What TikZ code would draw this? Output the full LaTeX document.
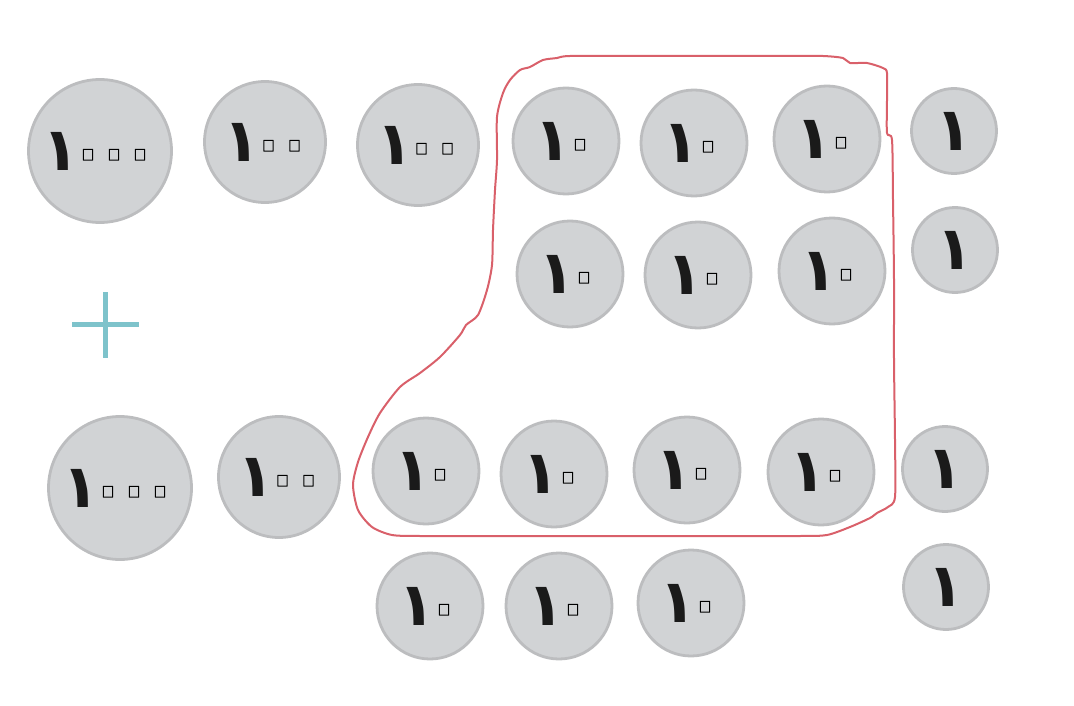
\documentclass[tikz,border=0pt]{standalone}
\usepackage{fontspec}
\newfontfamily\arfont[Script=Arabic]{DejaVu Sans}
\newfontfamily\arfontb[Script=Arabic]{DejaVu Sans Bold}
\definecolor{coinfill}{HTML}{D1D3D5}
\definecolor{coinedge}{HTML}{BCBDBF}
\definecolor{redline}{HTML}{D9606A}
\definecolor{plusc}{HTML}{7EC3CB}
\definecolor{digitc}{HTML}{1A1A1A}
\newcommand\dOne{\makebox[28pt][c]{\arfontb\fontsize{60}{60}\selectfont\color{digitc}١}}
\newcommand\dZero{\makebox[26pt][c]{\raisebox{-9.5pt}[0pt][0pt]{\fontsize{88}{88}\selectfont\special{pdf:literal direct q 1 Tr 1 j 1 w}٠\special{pdf:literal direct Q}}}}
\begin{document}
\begin{tikzpicture}[x=1pt,y=-1pt,
  coin/.style={circle, fill=coinfill, draw=coinedge, line width=2.8pt, inner sep=0pt, font=\arfont},
  thousand/.style={coin, minimum size=143pt},
  hundred/.style={coin, minimum size=121pt},
  ten/.style={coin, minimum size=106pt},
  unit/.style={coin, minimum size=85pt}]
\useasboundingbox (0,0) rectangle (1074,706);
% red grouping outline
\draw[redline, line width=2pt, line join=round] plot[smooth cycle, tension=0.45] coordinates {
 (497,117) (503,93) (510,80) (520,70) (530,67) (543,60) (557,58) (570,56)
 (640,56) (720,56) (790,56) (823,56) (843,58) (850,63) (867,63) (883,68) (887,73) (887,100) (887,133) (892,140)
 (893,200) (894,280) (894,360) (895,440) (895,497) (888,507) (877,513) (870,518) (850,527) (827,535) (800,536) (720,536) (640,536)
 (560,536) (480,536) (420,536) (392,535) (372,527) (358,510) (353,485) (358,462) (368,437) (380,413) (400,387)
 (420,373) (440,357) (460,335) (466,325) (478,315) (487,290) (492,265) (493,230) (495,190) (497,160)};
% plus sign
\coordinate (pl) at (72,324); \coordinate (pr) at (139,324);
\coordinate (pt) at (105,292); \coordinate (pb) at (105,358);
\draw[plusc, line width=5pt] (pl) -- (pr) (pt) -- (pb);
% row 1
\node[thousand] (a1) at (100,151) {\dOne\dZero\dZero\dZero\hspace{10pt}};
\node[hundred] (a2) at (265,142) {\hspace{5pt}\dOne\dZero\dZero};
\node[hundred] (a3) at (418,145) {\hspace{5pt}\dOne\dZero\dZero};
\node[ten] (a4) at (566,141) {\dOne\dZero};
\node[ten] (a5) at (694,143) {\dOne\dZero};
\node[ten] (a6) at (827,139) {\dOne\dZero};
\node[unit] (a7) at (954,131) {\dOne};
% row 2
\node[ten] (b1) at (570,274) {\dOne\dZero};
\node[ten] (b2) at (698,275) {\dOne\dZero};
\node[ten] (b3) at (832,271) {\dOne\dZero};
\node[unit] (b4) at (955,250) {\dOne};
% row 3
\node[thousand] (c1) at (120,488) {\dOne\dZero\dZero\dZero\hspace{10pt}};
\node[hundred] (c2) at (279,477) {\hspace{5pt}\dOne\dZero\dZero};
\node[ten] (c3) at (426,471) {\dOne\dZero};
\node[ten] (c4) at (554,474) {\dOne\dZero};
\node[ten] (c5) at (687,470) {\dOne\dZero};
\node[ten] (c6) at (821,472) {\dOne\dZero};
\node[unit] (c7) at (945,469) {\dOne};
% row 4
\node[ten] (d1) at (430,606) {\dOne\dZero};
\node[ten] (d2) at (559,606) {\dOne\dZero};
\node[ten] (d3) at (691,603) {\dOne\dZero};
\node[unit] (d4) at (946,587) {\dOne};
\end{tikzpicture}
\end{document}
